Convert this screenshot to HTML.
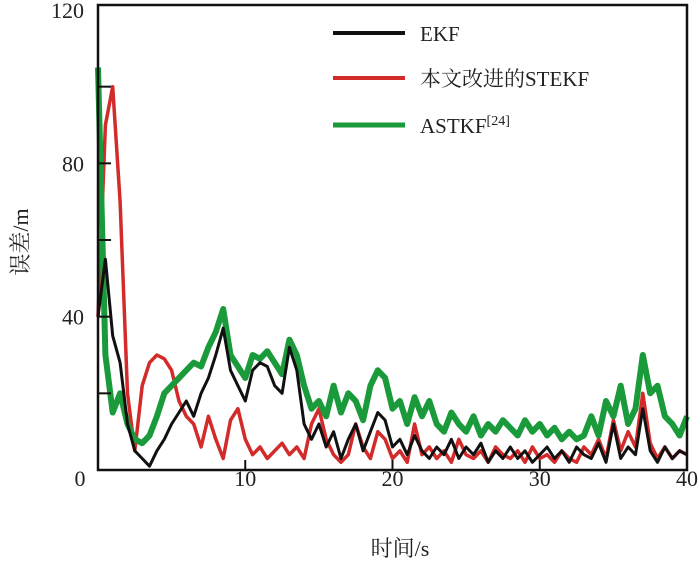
<!DOCTYPE html>
<html><head><meta charset="utf-8"><style>
body{margin:0;background:#fff}
svg text{font-family:"Liberation Serif","Noto Serif CJK SC",serif;fill:#222}
</style></head><body>
<svg id="chart" width="700" height="561" viewBox="0 0 700 561" xmlns="http://www.w3.org/2000/svg">
<g id="series"></g>
<rect x="98" y="5" width="589" height="465" fill="none" stroke="#111" stroke-width="2.5"/>
<g id="axes"></g>
<text transform="translate(28,242) rotate(-90)" text-anchor="middle" font-size="22">误差/m</text>
<text x="400" y="556" text-anchor="middle" font-size="22">时间/s</text>
<g>
<line x1="333" y1="33" x2="405" y2="33" stroke="#111" stroke-width="4"/>
<text x="420" y="41" font-size="21">EKF</text>
<line x1="333" y1="78" x2="405" y2="78" stroke="#d32a2a" stroke-width="4"/>
<text x="420" y="86" font-size="21">本文改进的STEKF</text>
<line x1="333" y1="125" x2="405" y2="125" stroke="#1a9a3a" stroke-width="5"/>
<text x="420" y="133" font-size="21">ASTKF<tspan font-size="14" dy="-8">[24]</tspan></text>
</g>
</svg>
<script>
const times = [];
for (let i = 0; i <= 80; i++) times.push(i * 0.5);
const ekfValues = [40,55,35,28,12,5,3,1,5,8,12,15,18,14,20,24,30,37,26,22,18,26,28,27,22,20,32,26,12,8,12,6,10,3,8,12,5,10,15,13,6,8,4,9,5,3,6,4,8,3,6,4,7,2,5,3,6,3,5,2,4,6,3,5,2,6,4,3,7,2,12,3,6,4,16,5,2,6,3,5,4];
const stekfValues = [40,90,100,70,20,5,22,28,30,29,26,18,14,12,6,14,8,3,13,16,8,4,6,3,5,7,4,6,3,12,16,8,4,2,4,12,6,3,10,8,3,5,2,12,4,6,3,5,2,8,4,3,5,2,6,4,3,5,2,6,3,4,2,5,3,2,6,4,8,3,13,5,10,6,20,7,3,6,3,5,4];
const astkfValues = [105,30,15,20,12,8,7,9,14,20,22,24,26,28,27,32,36,42,30,27,24,30,29,31,28,25,34,30,22,16,18,14,22,15,20,18,13,22,26,24,16,18,12,19,14,18,12,10,15,12,10,14,9,12,10,13,11,9,13,10,12,9,11,8,10,8,9,14,9,18,14,22,12,16,30,20,22,14,12,9,14];
const xTicks = [0,10,20,30,40];
const yTickLabels = [40,80,120];
const yTickMarks = [20,40,60,80,100];

const NS = 'http://www.w3.org/2000/svg';
const X0 = 98, X1 = 687, Y0 = 470, Y1 = 10;
function xs(t){ return X0 + (t / 40) * (X1 - X0); }
function ys(v){ return Y0 - (v / 120) * (Y0 - Y1); }

const series = document.getElementById('series');
function drawLine(vals, color, w, name){
  const p = document.createElementNS(NS, 'polyline');
  p.setAttribute('points', vals.map((v, i) => xs(times[i]).toFixed(1) + ',' + ys(v).toFixed(1)).join(' '));
  p.setAttribute('fill', 'none');
  p.setAttribute('stroke', color);
  p.setAttribute('stroke-width', w);
  p.setAttribute('stroke-linejoin', 'round');
  
  
  series.appendChild(p);
}
drawLine(stekfValues, '#d32a2a', 3.5, 'stekf-line');
drawLine(astkfValues, '#1a9a3a', 6, 'astkf-line');
drawLine(ekfValues, '#111', 3, 'ekf-line');

const axes = document.getElementById('axes');
xTicks.forEach(t => {
  const tx = document.createElementNS(NS, 'text');
  tx.setAttribute('x', t === 0 ? 80 : xs(t));
  tx.setAttribute('y', 486);
  tx.setAttribute('text-anchor', 'middle');
  tx.setAttribute('font-size', '22');
  tx.textContent = t;
  
  
  axes.appendChild(tx);
  if (t > 0 && t < 40) {
    const l = document.createElementNS(NS, 'line');
    l.setAttribute('x1', xs(t)); l.setAttribute('x2', xs(t));
    l.setAttribute('y1', Y0); l.setAttribute('y2', Y0 - 10);
    l.setAttribute('stroke', '#111'); l.setAttribute('stroke-width', '2');
    
    
    axes.appendChild(l);
  }
});
yTickMarks.forEach(v => {
  const l = document.createElementNS(NS, 'line');
  l.setAttribute('x1', X0); l.setAttribute('x2', X0 + 13);
  l.setAttribute('y1', ys(v)); l.setAttribute('y2', ys(v));
  l.setAttribute('stroke', '#111'); l.setAttribute('stroke-width', '2');
  
  
  axes.appendChild(l);
});
yTickLabels.forEach(v => {
  const tx = document.createElementNS(NS, 'text');
  tx.setAttribute('x', 84);
  tx.setAttribute('y', ys(v) + 8);
  tx.setAttribute('text-anchor', 'end');
  tx.setAttribute('font-size', '22');
  tx.textContent = v;
  
  
  axes.appendChild(tx);
});
</script>
</body></html>
